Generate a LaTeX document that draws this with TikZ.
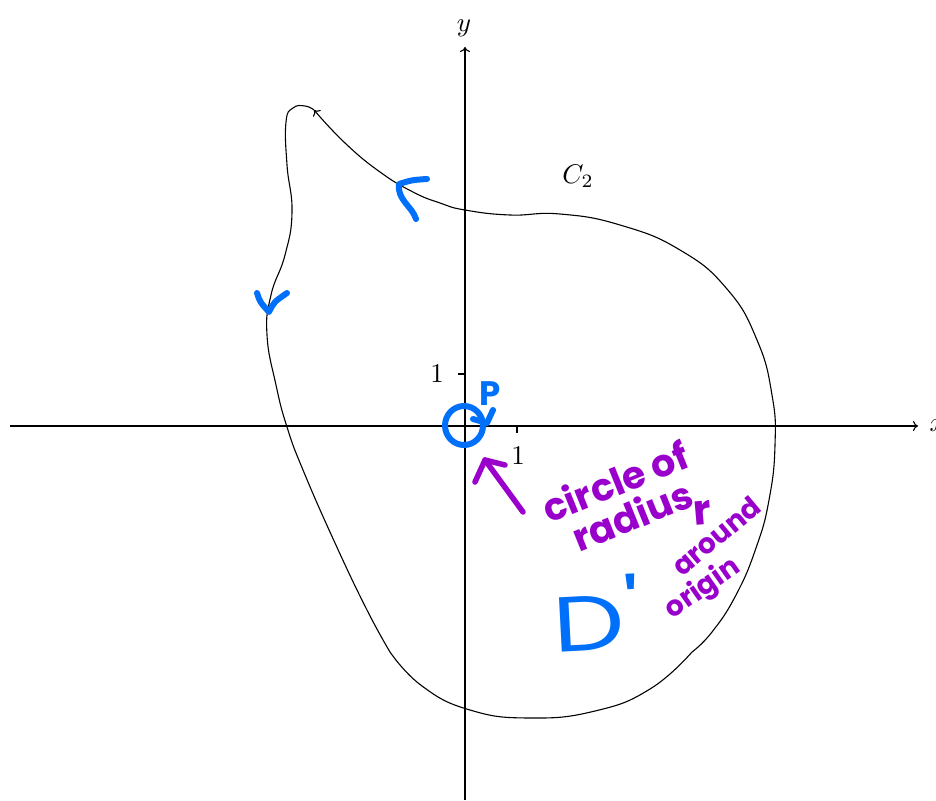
\documentclass[tikz,border=0pt]{standalone}
\usepackage{fontspec}
\newfontfamily\hand{Poppins}
\usetikzlibrary{arrows.meta}
\definecolor{penblue}{RGB}{0,112,250}
\definecolor{penpurple}{RGB}{153,0,204}
\begin{document}
\begin{tikzpicture}[x=1pt,y=-1pt,
  mlabel/.style={scale=2.7, inner sep=0pt},
  thinline/.style={line width=1.1pt, black},
  axisline/.style={line width=1.1pt, -{Computer Modern Rightarrow[length=5pt,width=10pt]}},
  curvearrow/.style={line width=1.1pt, -{Computer Modern Rightarrow[length=5pt,width=10pt]}},
  bluepen/.style={penblue, line width=6pt, line cap=round, line join=round},
  purplepen/.style={penpurple, line width=5.5pt, line cap=round, line join=round},
  handtext/.style={inner sep=0pt, font=\hand\bfseries\fontsize{#1}{#1}\selectfont},
  handthin/.style={inner sep=0pt, font=\hand\fontsize{#1}{#1}\selectfont}
]
\useasboundingbox (0,0) rectangle (936,800);

% axes
\coordinate (xs) at (10,426);
\coordinate (xe) at (918,426);
\coordinate (ys) at (465,800);
\coordinate (ye) at (465,47);
\draw[axisline] (xs) -- (xe);
\draw[axisline] (ys) -- (ye);
\node[mlabel, anchor=west] (xl) at (929,426) {$x$};
\node[mlabel] (yl) at (464,28) {$y$};

% ticks
\coordinate (tx1) at (517,426);
\coordinate (tx2) at (517,433);
\coordinate (ty1) at (465,374);
\coordinate (ty2) at (458,374);
\draw[thinline] (tx1) -- (tx2);
\draw[thinline] (ty1) -- (ty2);
\node[mlabel] (lx) at (518,456) {1};
\node[mlabel] (ly) at (437,374) {1};

\node[mlabel] (c2) at (578,176) {$C_2$};

% closed curve C2
\draw[thinline] plot[smooth, tension=0.8] coordinates {(314,110) (305,106) (293,108) (286,122) (287,165) (292,212) (285,255) (271,295) (267,335) (276,385) (287,427) (303,470) (335,543) (367,610) (390,652)};
\draw[thinline] plot[smooth, tension=0.8] coordinates {(390,652) (422,686) (470,710) (530,718) (595,711) (650,689) (692,652)};
\draw[curvearrow] plot[smooth, tension=0.8] coordinates {(692,652) (712,632) (736,595) (756,548) (769,500) (775,445) (772,395) (757,340) (727,289) (680,250) (620,225) (560,214) (510,215) (465,210) (440,203) (413,192) (380,172) (345,143) (314,110)};

% blue orientation marks
\coordinate (ba1) at (427,179);
\coordinate (ba2) at (399,184);
\coordinate (ba3) at (416,219);
\draw[bluepen] (ba1) .. controls (412,180) .. (ba2) .. controls (397,200) and (412,206) .. (ba3);
\coordinate (bl1) at (257,293);
\coordinate (bl2) at (269,312);
\coordinate (bl3) at (287,293);
\draw[bluepen] (bl1) .. controls (260,302) .. (bl2) .. controls (274,302) .. (bl3);

% small circle and P
\coordinate (o) at (464,425.5);
\draw[bluepen] (o) ellipse [x radius=19, y radius=19.5];
\node[handthin=34, penblue] (p) at (490,394) {\textbf{P}};
\coordinate (pa) at (493,410);
\coordinate (pb) at (487,423);
\coordinate (pc) at (473,419);
\draw[bluepen] (pa) -- (pb) -- (pc);

% purple arrow
\coordinate (qa) at (523,512);
\coordinate (qb) at (485,460);
\coordinate (qc) at (475,482);
\coordinate (qd) at (505,465);
\draw[purplepen] (qa) -- (qb);
\draw[purplepen] (qc) -- (qb) -- (qd);

% purple annotation
\node[handtext=38, penpurple, rotate=22] (t1) at (615,481) {circle of};
\node[handtext=38, penpurple, rotate=22] (t2) at (632,515) {radius};
\node[handtext=42, penpurple, rotate=5] (t3) at (702,513) {r};
\node[handtext=28, penpurple, rotate=40] (t4) at (716,536) {around};
\node[handtext=28, penpurple, rotate=35] (t5) at (703,589) {origin};

% D'
\node[handthin=78, penblue, rotate=3, xscale=1.3] (dp) at (596,613) {D\raisebox{13pt}{'}};
\end{tikzpicture}
\end{document}
